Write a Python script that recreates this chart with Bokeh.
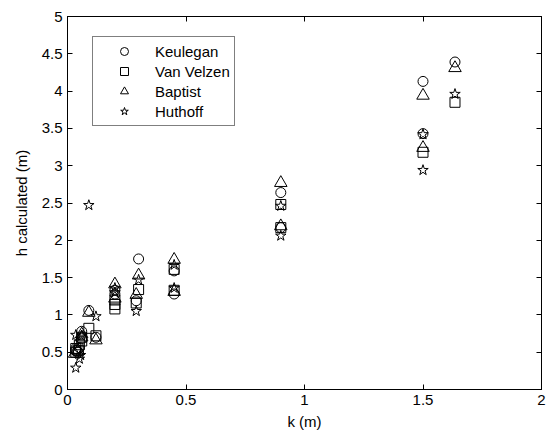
from bokeh.plotting import figure
from bokeh.models import LinearAxis, FixedTicker, Legend, LegendItem, Range1d, CustomLabelingPolicy
from bokeh.embed import file_html
from bokeh.resources import INLINE

# ---- data ----
kk_k = [0.035, 0.035, 0.045, 0.05, 0.06, 0.06, 0.09, 0.12, 0.2, 0.2, 0.3, 0.29, 0.45, 0.45, 0.9, 0.9, 1.5, 1.5, 1.635]
kk_h = [0.52, 0.55, 0.50, 0.56, 0.78, 0.68, 1.06, 0.70, 1.33, 1.28, 1.75, 1.19, 1.59, 1.28, 2.64, 2.17, 4.13, 3.43, 4.39]

vv_k = [0.035, 0.035, 0.045, 0.05, 0.06, 0.06, 0.09, 0.12, 0.2, 0.2, 0.2, 0.3, 0.29, 0.45, 0.45, 0.9, 0.9, 1.5, 1.635]
vv_h = [0.50, 0.55, 0.52, 0.60, 0.65, 0.70, 0.82, 0.72, 1.20, 1.14, 1.08, 1.34, 1.16, 1.61, 1.33, 2.48, 2.17, 3.18, 3.85]

bp_k = [0.03, 0.045, 0.06, 0.06, 0.09, 0.12, 0.2, 0.2, 0.3, 0.29, 0.45, 0.45, 0.9, 0.9, 1.5, 1.5, 1.635]
bp_h = [0.48, 0.52, 0.70, 0.74, 1.03, 0.66, 1.41, 1.22, 1.53, 1.27, 1.74, 1.31, 2.77, 2.19, 3.94, 3.24, 4.31]

hu_k = [0.035, 0.035, 0.05, 0.055, 0.06, 0.09, 0.12, 0.2, 0.2, 0.3, 0.29, 0.45, 0.45, 0.9, 0.9, 1.5, 1.5, 1.635]
hu_h = [0.73, 0.29, 0.41, 0.46, 0.72, 2.47, 0.98, 1.36, 1.30, 1.47, 1.05, 1.67, 1.36, 2.46, 2.06, 3.42, 2.94, 3.96]

series_names = ["Keulegan", "Van Velzen", "Baptist", "Huthoff"]

x_ticks = [0, 0.5, 1, 1.5, 2]
x_tick_labels = ["0", "0.5", "1", "1.5", "2"]
y_ticks = [0, 0.5, 1, 1.5, 2, 2.5, 3, 3.5, 4, 4.5, 5]
y_tick_labels = ["0", "0.5", "1", "1.5", "2", "2.5", "3", "3.5", "4", "4.5", "5"]

FONT = "Liberation Sans"
FS = "15px"

p = figure(width=548, height=432, output_backend="svg", toolbar_location=None,
           x_range=Range1d(0, 2), y_range=Range1d(0, 5),
           min_border_left=67, min_border_right=7, min_border_top=16, min_border_bottom=43,
           x_axis_label="k (m)", y_axis_label="h calculated (m)")
p.xgrid.visible = False
p.ygrid.visible = False
p.outline_line_color = "black"
p.outline_line_width = 1
p.background_fill_color = "white"
p.border_fill_color = "white"

no_labels = CustomLabelingPolicy(code="""
try { for (let i = 0; i < indices.size; i++) indices.unset(i) } catch (e) {}
return indices
""")

def style_axis(ax, ticks, labels=None):
    ax.ticker = FixedTicker(ticks=ticks)
    ax.major_tick_in = 5
    ax.major_tick_out = 0
    ax.minor_tick_line_color = None
    ax.axis_line_color = "black"
    ax.major_tick_line_color = "black"
    if labels is not None:
        ax.major_label_overrides = {t: l for t, l in zip(ticks, labels)}
        ax.major_label_text_font = FONT
        ax.major_label_text_font_size = FS
        ax.major_label_text_color = "black"
        ax.major_label_standoff = 5
        ax.axis_label_text_font = FONT
        ax.axis_label_text_font_size = FS
        ax.axis_label_text_font_style = "normal"
        ax.axis_label_text_color = "black"
    else:
        ax.major_label_policy = no_labels
        ax.major_label_text_font_size = "0px"
        ax.major_label_standoff = 0

style_axis(p.xaxis[0], x_ticks, x_tick_labels)
style_axis(p.yaxis[0], y_ticks, y_tick_labels)
p.xaxis[0].axis_label_standoff = 5
p.yaxis[0].axis_label_standoff = 9

top_ax = LinearAxis()
style_axis(top_ax, x_ticks)
p.add_layout(top_ax, "above")
right_ax = LinearAxis()
style_axis(right_ax, y_ticks)
p.add_layout(right_ax, "right")

r_k = p.scatter(kk_k, kk_h, marker="circle", size=10, fill_color=None, line_color="black", line_width=1)
r_v = p.scatter(vv_k, vv_h, marker="square", size=10, fill_color=None, line_color="black", line_width=1)
r_b = p.scatter(bp_k, bp_h, marker="triangle", size=12.5, fill_color=None, line_color="black", line_width=1)
r_h = p.scatter(hu_k, hu_h, marker="star", size=11, fill_color=None, line_color="black", line_width=1)

legend = Legend(items=[LegendItem(label=n, renderers=[r]) for n, r in zip(series_names, [r_k, r_v, r_b, r_h])],
                location=(25, 263), padding=4, margin=0, spacing=0,
                label_height=20, glyph_height=20, glyph_width=54, label_standoff=4,
                label_text_font=FONT, label_text_font_size=FS, label_text_color="black",
                border_line_color="black", border_line_width=1,
                background_fill_color="white", background_fill_alpha=1.0)
p.add_layout(legend, "center")

open("out.html", "w").write(file_html(p, INLINE))
